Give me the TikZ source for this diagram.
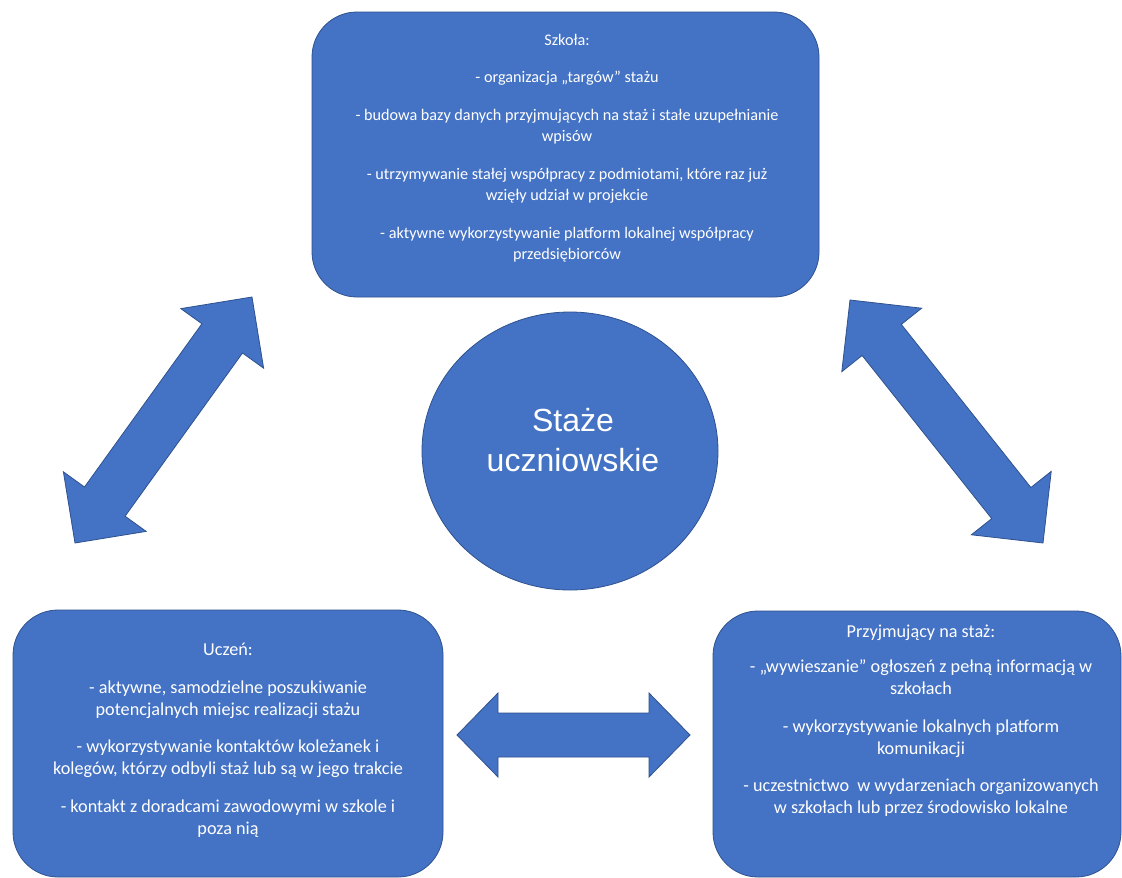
\documentclass[tikz,border=0pt]{standalone}
\usepackage{fontspec}
\setmainfont{Carlito}
\newfontfamily\titlefont{Liberation Sans}
\usetikzlibrary{calc,shapes.geometric}

\definecolor{shapeblue}{HTML}{4472C4}
\definecolor{shapeedge}{HTML}{2F528F}

\tikzset{
  panel/.style={rectangle, rounded corners=45pt, fill=shapeblue, draw=shapeedge,
    line width=0.8pt, inner sep=0pt},
  paneltext/.style={align=center, text=white, inner sep=0pt},
  smalltext/.style={paneltext, font=\fontsize{16.2}{21.5}\selectfont},
  largetext/.style={paneltext, font=\fontsize{18.2}{22}\selectfont},
  hub/.style={ellipse, fill=shapeblue, draw=shapeedge, line width=0.8pt, inner sep=0pt},
  hubtext/.style={align=center, text=white, inner sep=0pt,
    font=\titlefont\fontsize{32}{40}\selectfont},
  fatarrow/.style={fill=shapeblue, draw=shapeedge, line width=0.8pt, line join=miter}
}

% Two-headed block arrow between two named end points.
% #1 prefix, #2 first end, #3 second end, #4 head length,
% #5 half width of the heads, #6 half width of the shaft
\newcommand\widearrow[6]{%
  \coordinate (#1-a) at ($(#2)!#4!(#3)$);
  \coordinate (#1-b) at ($(#3)!#4!(#2)$);
  \draw[fatarrow] (#2)
    -- ($(#1-a)!#5!90:(#3)$) -- ($(#1-a)!#6!90:(#3)$)
    -- ($(#1-b)!#6!-90:(#2)$) -- ($(#1-b)!#5!-90:(#2)$)
    -- (#3)
    -- ($(#1-b)!#5!90:(#2)$) -- ($(#1-b)!#6!90:(#2)$)
    -- ($(#1-a)!#6!-90:(#3)$) -- ($(#1-a)!#5!-90:(#3)$)
    -- cycle;
}

\begin{document}
\begin{tikzpicture}[x=1pt, y=-1pt]
\fill[white] (0,0) rectangle (1122,878);
\useasboundingbox (0,0) rectangle (1122,878);

% panels
\node[panel, minimum width=507pt, minimum height=285pt] (school) at (565.5,154.5) {};
\node[panel, minimum width=430pt, minimum height=267pt] (pupil) at (228,743.5) {};
\node[panel, minimum width=408pt, minimum height=266pt] (host) at (917,744) {};

% centre
\node[hub, minimum width=296pt, minimum height=278pt] (hub) at (570,451) {};
\node[hubtext] (hubLabel) at (573,440) {Staże\\uczniowskie};

% panel texts
\node[smalltext] (schoolText) at (567,148) {%
  Szkoła:\\[16pt]
  - organizacja „targów” stażu\\[16pt]
  - budowa bazy danych przyjmujących na staż i stałe uzupełnianie\\
  wpisów\\[16pt]
  - utrzymywanie stałej współpracy z podmiotami, które raz już\\
  wzięły udział w projekcie\\[16pt]
  - aktywne wykorzystywanie platform lokalnej współpracy\\
  przedsiębiorców};

\node[largetext] (pupilText) at (228,740) {%
  Uczeń:\\[15.5pt]
  - aktywne, samodzielne poszukiwanie\\
  potencjalnych miejsc realizacji stażu\\[15.5pt]
  - wykorzystywanie kontaktów koleżanek i\\
  kolegów, którzy odbyli staż lub są w jego trakcie\\[15.5pt]
  - kontakt z doradcami zawodowymi w szkole i\\
  poza nią};

\node[largetext] (hostText) at (921,721) {%
  Przyjmujący na staż:\\[13pt]
  - „wywieszanie” ogłoszeń z pełną informacją w\\
  szkołach\\[15.5pt]
  - wykorzystywanie lokalnych platform\\
  komunikacji\\[15.5pt]
  - uczestnictwo\ \ w wydarzeniach organizowanych\\
  w szkołach lub przez środowisko lokalne};

% arrow ends
\coordinate (leftLow)  at (75,543);
\coordinate (leftHigh) at (252,297);
\coordinate (rightHigh) at (850,300);
\coordinate (rightLow)  at (1043,543);
\coordinate (midLeft)  at (457,735);
\coordinate (midRight) at (690,735);

\widearrow{pupilSchool}{leftLow}{leftHigh}{51pt}{51pt}{25pt}
\widearrow{schoolHost}{rightHigh}{rightLow}{51pt}{51pt}{25pt}
\widearrow{pupilHost}{midLeft}{midRight}{41pt}{42pt}{22pt}
\end{tikzpicture}
\end{document}
